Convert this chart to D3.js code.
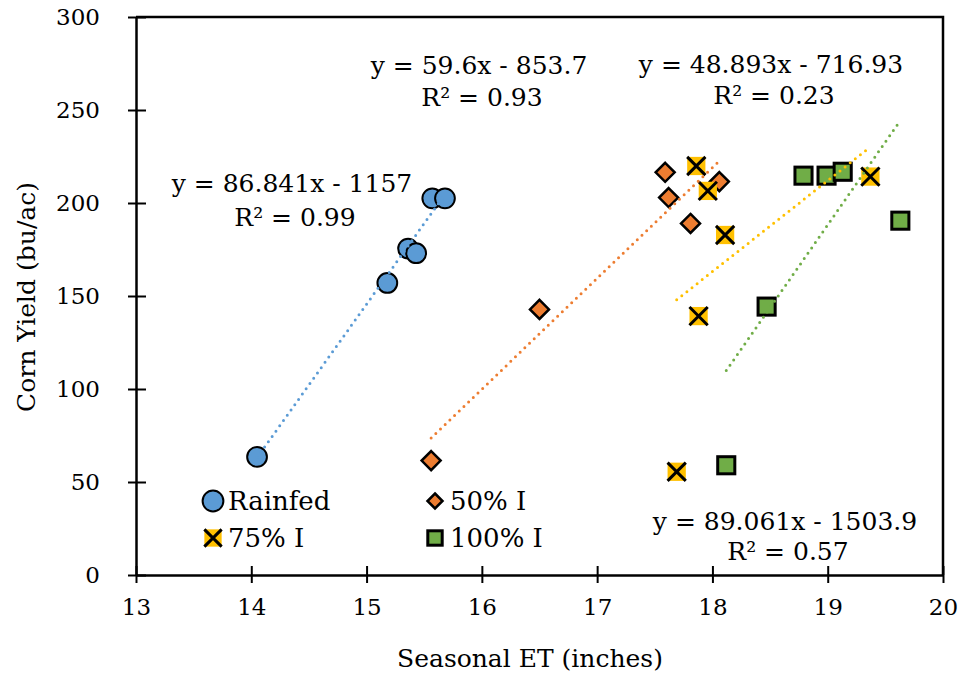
<!DOCTYPE html>
<html>
<head>
<meta charset="utf-8">
<script src="https://cdn.jsdelivr.net/npm/d3@7"></script>
<style>
  body { margin: 0; background: #fff; }
  svg text { font-family: "DejaVu Serif", "Liberation Serif", serif; fill: #000; }
</style>
</head>
<body>
<div id="chart"></div>
<script>
// Data
const seriesNames = ["Rainfed", "50% I", "75% I", "100% I"];
const rainfedET    = [14.05, 15.18, 15.36, 15.43, 15.57, 15.68];
const rainfedYield = [63.5, 157, 175.5, 173, 202.5, 202.5];
const i50ET        = [15.56, 16.50, 17.59, 17.62, 17.81, 18.06];
const i50Yield     = [61.5, 142.8, 216.5, 202.9, 189, 211.5];
const i75ET        = [17.69, 17.86, 17.88, 17.96, 18.11, 19.37];
const i75Yield     = [55.5, 219.9, 139.2, 206.5, 182.8, 214.2];
const i100ET       = [18.12, 18.47, 18.79, 18.99, 19.13, 19.63];
const i100Yield    = [59, 144.3, 214.7, 214.7, 216.8, 190.5];
const trendSlopes     = [86.841, 59.6, 48.893, 89.061];
const trendIntercepts = [-1157, -853.7, -716.93, -1503.9];
const trendR2         = ["0.99", "0.93", "0.23", "0.57"];
const xTicks = [13, 14, 15, 16, 17, 18, 19, 20];
const yTicks = [0, 50, 100, 150, 200, 250, 300];

const W = 966, H = 675;
const colors = ["#5B9BD5", "#ED7D31", "#FFC000", "#70AD47"];
const shapes = ["circle", "diamond", "cross", "square"];

const seriesET = [rainfedET, i50ET, i75ET, i100ET];
const seriesYield = [rainfedYield, i50Yield, i75Yield, i100Yield];
const series = seriesNames.map((name, i) => ({
  name, color: colors[i], shape: shapes[i],
  points: seriesET[i].map((x, j) => ({ x, y: seriesYield[i][j] })),
  slope: trendSlopes[i], intercept: trendIntercepts[i], r2: trendR2[i]
}));

const svg = d3.select("#chart").append("svg")
  .attr("width", W).attr("height", H);

const x = d3.scaleLinear().domain([13, 20]).range([136, 943]);
const y = d3.scaleLinear().domain([0, 300]).range([575, 17]);

// frame (top + right)
svg.append("path")
  .attr("d", `M${x(13)},${y(300)}H${x(20)}V${y(0)}`)
  .attr("fill", "none").attr("stroke", "#000").attr("stroke-width", 2.5);

// axes, ticks cross the line
const xAxis = svg.append("g").attr("transform", `translate(0,${y(0)})`)
  .call(d3.axisBottom(x).tickValues(xTicks).tickFormat(d3.format("d"))
    .tickSizeInner(8).tickSizeOuter(0).tickPadding(16));
xAxis.selectAll(".tick line").attr("y1", -9).attr("y2", 8);
const yAxis = svg.append("g").attr("transform", `translate(${x(13)},0)`)
  .call(d3.axisLeft(y).tickValues(yTicks).tickSizeInner(8).tickSizeOuter(0).tickPadding(28));
yAxis.selectAll(".tick line").attr("x1", -8).attr("x2", 10);
svg.selectAll(".domain").attr("stroke-width", 2.5);
svg.selectAll(".tick line").attr("stroke-width", 2);
svg.selectAll(".tick text").style("font-size", "23px");

// axis titles
svg.append("text").attr("x", 530).attr("y", 667).attr("text-anchor", "middle")
  .style("font-size", "25px").text("Seasonal ET (inches)");
svg.append("text").attr("transform", "translate(35,297) rotate(-90)")
  .attr("text-anchor", "middle").style("font-size", "25px").text("Corn Yield (bu/ac)");

function drawMarker(g, shape, color, s) {
  if (shape === "circle") {
    g.append("circle").attr("r", s * 0.52).attr("fill", color)
      .attr("stroke", "#000").attr("stroke-width", 2);
  } else if (shape === "diamond") {
    const h = s * 0.5;
    g.append("path").attr("d", `M0,${-h}L${h},0L0,${h}L${-h},0Z`).attr("fill", color)
      .attr("stroke", "#000").attr("stroke-width", 2.5).attr("stroke-linejoin", "miter");
  } else if (shape === "cross") {
    const h = s * 0.48;
    g.append("rect").attr("x", -h).attr("y", -h).attr("width", 2 * h).attr("height", 2 * h)
      .attr("fill", color);
    g.append("path").attr("d", `M${-h},${-h}L${h},${h}M${h},${-h}L${-h},${h}`)
      .attr("stroke", "#000").attr("stroke-width", 3);
  } else {
    const h = s * 0.45;
    g.append("rect").attr("x", -h).attr("y", -h).attr("width", 2 * h).attr("height", 2 * h)
      .attr("fill", color).attr("stroke", "#000").attr("stroke-width", 3);
  }
}

// markers
series.forEach(s => {
  s.points.forEach(p => {
    const g = svg.append("g").attr("transform", `translate(${x(p.x)},${y(p.y)})`);
    drawMarker(g, s.shape, s.color, 19);
  });
});

// dotted trendlines over the data range
series.forEach(s => {
  const [x0, x1] = d3.extent(s.points, p => p.x);
  svg.append("line")
    .attr("x1", x(x0)).attr("y1", y(s.slope * x0 + s.intercept))
    .attr("x2", x(x1)).attr("y2", y(s.slope * x1 + s.intercept))
    .attr("stroke", s.color).attr("stroke-width", 3)
    .attr("stroke-linecap", "round").attr("stroke-dasharray", "0 6.5");
});

// equation labels
const eqPos = [[292, 192, 226], [479, 74, 106], [771, 73, 104], [785, 530, 560]];
series.forEach((s, i) => {
  const [cx, b1, b2] = eqPos[i];
  const sign = s.intercept < 0 ? " - " : " + ";
  svg.append("text").attr("x", cx).attr("y", b1).attr("text-anchor", "middle")
    .style("font-size", "25px")
    .text(`y = ${s.slope}x${sign}${Math.abs(s.intercept)}`);
  svg.append("text").attr("x", cx + 3).attr("y", b2).attr("text-anchor", "middle")
    .style("font-size", "25px").text("R² = " + s.r2);
});

// legend
const legendPos = [[213, 501], [435, 501], [213, 538], [435, 538]];
const legendSize = [20, 15, 18, 16];
series.forEach((s, i) => {
  const [lx, ly] = legendPos[i];
  const g = svg.append("g").attr("transform", `translate(${lx},${ly})`);
  drawMarker(g, s.shape, s.color, legendSize[i]);
  svg.append("text").attr("x", lx + 15).attr("y", ly + 9)
    .style("font-size", "26px").text(s.name);
});
</script>
</body>
</html>
